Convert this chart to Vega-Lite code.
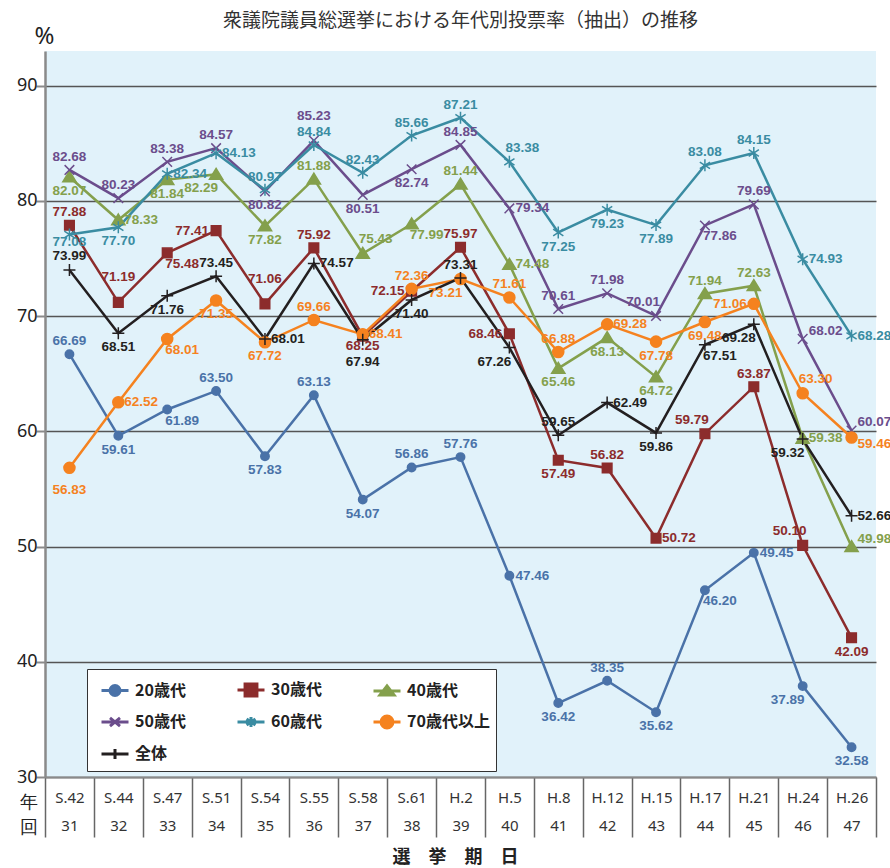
{
"$schema":"https://vega.github.io/schema/vega-lite/v6.json",
"width":831,"height":726,
"autosize":{"type":"none"},
"padding":{"left":45,"top":51,"right":14,"bottom":91},
"background":"white",
"title":{"text":"衆議院議員総選挙における年代別投票率（抽出）の推移","font":"Noto Sans CJK JP","fontSize":19,"fontWeight":"normal","color":"#333333","anchor":"middle","frame":"group","offset":20,"dy":27},
"config":{"view":{"fill":"#e1f2fa","stroke":null},"font":"Noto Sans"},
"data":{"values":[
{"g":"20歳代","e":"S.42","n":31,"v":66.69},{"g":"20歳代","e":"S.44","n":32,"v":59.61},{"g":"20歳代","e":"S.47","n":33,"v":61.89},{"g":"20歳代","e":"S.51","n":34,"v":63.50},{"g":"20歳代","e":"S.54","n":35,"v":57.83},{"g":"20歳代","e":"S.55","n":36,"v":63.13},{"g":"20歳代","e":"S.58","n":37,"v":54.07},{"g":"20歳代","e":"S.61","n":38,"v":56.86},{"g":"20歳代","e":"H.2","n":39,"v":57.76},{"g":"20歳代","e":"H.5","n":40,"v":47.46},{"g":"20歳代","e":"H.8","n":41,"v":36.42},{"g":"20歳代","e":"H.12","n":42,"v":38.35},{"g":"20歳代","e":"H.15","n":43,"v":35.62},{"g":"20歳代","e":"H.17","n":44,"v":46.20},{"g":"20歳代","e":"H.21","n":45,"v":49.45},{"g":"20歳代","e":"H.24","n":46,"v":37.89},{"g":"20歳代","e":"H.26","n":47,"v":32.58},
{"g":"30歳代","e":"S.42","n":31,"v":77.88},{"g":"30歳代","e":"S.44","n":32,"v":71.19},{"g":"30歳代","e":"S.47","n":33,"v":75.48},{"g":"30歳代","e":"S.51","n":34,"v":77.41},{"g":"30歳代","e":"S.54","n":35,"v":71.06},{"g":"30歳代","e":"S.55","n":36,"v":75.92},{"g":"30歳代","e":"S.58","n":37,"v":68.25},{"g":"30歳代","e":"S.61","n":38,"v":72.15},{"g":"30歳代","e":"H.2","n":39,"v":75.97},{"g":"30歳代","e":"H.5","n":40,"v":68.46},{"g":"30歳代","e":"H.8","n":41,"v":57.49},{"g":"30歳代","e":"H.12","n":42,"v":56.82},{"g":"30歳代","e":"H.15","n":43,"v":50.72},{"g":"30歳代","e":"H.17","n":44,"v":59.79},{"g":"30歳代","e":"H.21","n":45,"v":63.87},{"g":"30歳代","e":"H.24","n":46,"v":50.10},{"g":"30歳代","e":"H.26","n":47,"v":42.09},
{"g":"40歳代","e":"S.42","n":31,"v":82.07},{"g":"40歳代","e":"S.44","n":32,"v":78.33},{"g":"40歳代","e":"S.47","n":33,"v":81.84},{"g":"40歳代","e":"S.51","n":34,"v":82.29},{"g":"40歳代","e":"S.54","n":35,"v":77.82},{"g":"40歳代","e":"S.55","n":36,"v":81.88},{"g":"40歳代","e":"S.58","n":37,"v":75.43},{"g":"40歳代","e":"S.61","n":38,"v":77.99},{"g":"40歳代","e":"H.2","n":39,"v":81.44},{"g":"40歳代","e":"H.5","n":40,"v":74.48},{"g":"40歳代","e":"H.8","n":41,"v":65.46},{"g":"40歳代","e":"H.12","n":42,"v":68.13},{"g":"40歳代","e":"H.15","n":43,"v":64.72},{"g":"40歳代","e":"H.17","n":44,"v":71.94},{"g":"40歳代","e":"H.21","n":45,"v":72.63},{"g":"40歳代","e":"H.24","n":46,"v":59.38},{"g":"40歳代","e":"H.26","n":47,"v":49.98},
{"g":"50歳代","e":"S.42","n":31,"v":82.68},{"g":"50歳代","e":"S.44","n":32,"v":80.23},{"g":"50歳代","e":"S.47","n":33,"v":83.38},{"g":"50歳代","e":"S.51","n":34,"v":84.57},{"g":"50歳代","e":"S.54","n":35,"v":80.82},{"g":"50歳代","e":"S.55","n":36,"v":85.23},{"g":"50歳代","e":"S.58","n":37,"v":80.51},{"g":"50歳代","e":"S.61","n":38,"v":82.74},{"g":"50歳代","e":"H.2","n":39,"v":84.85},{"g":"50歳代","e":"H.5","n":40,"v":79.34},{"g":"50歳代","e":"H.8","n":41,"v":70.61},{"g":"50歳代","e":"H.12","n":42,"v":71.98},{"g":"50歳代","e":"H.15","n":43,"v":70.01},{"g":"50歳代","e":"H.17","n":44,"v":77.86},{"g":"50歳代","e":"H.21","n":45,"v":79.69},{"g":"50歳代","e":"H.24","n":46,"v":68.02},{"g":"50歳代","e":"H.26","n":47,"v":60.07},
{"g":"60歳代","e":"S.42","n":31,"v":77.08},{"g":"60歳代","e":"S.44","n":32,"v":77.70},{"g":"60歳代","e":"S.47","n":33,"v":82.34},{"g":"60歳代","e":"S.51","n":34,"v":84.13},{"g":"60歳代","e":"S.54","n":35,"v":80.97},{"g":"60歳代","e":"S.55","n":36,"v":84.84},{"g":"60歳代","e":"S.58","n":37,"v":82.43},{"g":"60歳代","e":"S.61","n":38,"v":85.66},{"g":"60歳代","e":"H.2","n":39,"v":87.21},{"g":"60歳代","e":"H.5","n":40,"v":83.38},{"g":"60歳代","e":"H.8","n":41,"v":77.25},{"g":"60歳代","e":"H.12","n":42,"v":79.23},{"g":"60歳代","e":"H.15","n":43,"v":77.89},{"g":"60歳代","e":"H.17","n":44,"v":83.08},{"g":"60歳代","e":"H.21","n":45,"v":84.15},{"g":"60歳代","e":"H.24","n":46,"v":74.93},{"g":"60歳代","e":"H.26","n":47,"v":68.28},
{"g":"70歳代以上","e":"S.42","n":31,"v":56.83},{"g":"70歳代以上","e":"S.44","n":32,"v":62.52},{"g":"70歳代以上","e":"S.47","n":33,"v":68.01},{"g":"70歳代以上","e":"S.51","n":34,"v":71.35},{"g":"70歳代以上","e":"S.54","n":35,"v":67.72},{"g":"70歳代以上","e":"S.55","n":36,"v":69.66},{"g":"70歳代以上","e":"S.58","n":37,"v":68.41},{"g":"70歳代以上","e":"S.61","n":38,"v":72.36},{"g":"70歳代以上","e":"H.2","n":39,"v":73.21},{"g":"70歳代以上","e":"H.5","n":40,"v":71.61},{"g":"70歳代以上","e":"H.8","n":41,"v":66.88},{"g":"70歳代以上","e":"H.12","n":42,"v":69.28},{"g":"70歳代以上","e":"H.15","n":43,"v":67.78},{"g":"70歳代以上","e":"H.17","n":44,"v":69.48},{"g":"70歳代以上","e":"H.21","n":45,"v":71.06},{"g":"70歳代以上","e":"H.24","n":46,"v":63.30},{"g":"70歳代以上","e":"H.26","n":47,"v":59.46},
{"g":"全体","e":"S.42","n":31,"v":73.99},{"g":"全体","e":"S.44","n":32,"v":68.51},{"g":"全体","e":"S.47","n":33,"v":71.76},{"g":"全体","e":"S.51","n":34,"v":73.45},{"g":"全体","e":"S.54","n":35,"v":68.01},{"g":"全体","e":"S.55","n":36,"v":74.57},{"g":"全体","e":"S.58","n":37,"v":67.94},{"g":"全体","e":"S.61","n":38,"v":71.40},{"g":"全体","e":"H.2","n":39,"v":73.31},{"g":"全体","e":"H.5","n":40,"v":67.26},{"g":"全体","e":"H.8","n":41,"v":59.65},{"g":"全体","e":"H.12","n":42,"v":62.49},{"g":"全体","e":"H.15","n":43,"v":59.86},{"g":"全体","e":"H.17","n":44,"v":67.51},{"g":"全体","e":"H.21","n":45,"v":69.28},{"g":"全体","e":"H.24","n":46,"v":59.32},{"g":"全体","e":"H.26","n":47,"v":52.66}
]},
"encoding":{
  "x":{"field":"e","type":"ordinal","scale":{"type":"band","domain":["S.42","S.44","S.47","S.51","S.54","S.55","S.58","S.61","H.2","H.5","H.8","H.12","H.15","H.17","H.21","H.24","H.26"],"paddingInner":0,"paddingOuter":0},
   "axis":{"title":"選　挙　期　日","titleFont":"Noto Sans CJK JP","titleFontSize":18,"titleFontWeight":"bold","titleColor":"#222222","titleX":410,"titleY":80,"titleAlign":"center","titleBaseline":"middle","titleAngle":0,
    "labelExpr":"indexof(['S.42','S.44','S.47','S.51','S.54','S.55','S.58','S.61','H.2','H.5','H.8','H.12','H.15','H.17','H.21','H.24','H.26'], datum.label) < 0 ? '' : [datum.label, '' + (indexof(['S.42','S.44','S.47','S.51','S.54','S.55','S.58','S.61','H.2','H.5','H.8','H.12','H.15','H.17','H.21','H.24','H.26'], datum.label) + 31)]",
    "labelAngle":0,"labelFont":"Noto Sans","labelFontSize":15,"labelColor":"#333333","labelBaseline":"top","labelLineHeight":28,"labelPadding":-47,"labelOverlap":false,
    "tickBand":"extent","tickSize":60,"tickColor":"#666666","tickWidth":1.5,"domainColor":"#8a8a8a","domainWidth":2,"grid":false}},
  "y":{"field":"v","type":"quantitative","scale":{"domain":[30,93],"nice":false,"zero":false},
   "axis":{"title":"%","titleAngle":0,"titleX":-1,"titleY":-15,"titleAlign":"center","titleBaseline":"middle","titleFontSize":24,"titleFontWeight":"normal","titleFont":"Noto Sans","titleColor":"#222222",
    "values":[30,40,50,60,70,80,90],"grid":true,"gridColor":"#555555","gridWidth":1.5,"tickSize":9,"tickColor":"#8a8a8a","tickWidth":2,
    "labelExpr":"datum.value === 30 ? ['30\u00a0\u00a0', '年', '回'] : datum.label + '\u00a0\u00a0'",
    "labelLineHeight":25,"labelOverlap":false,
    "labelFontSize":18,"labelFont":"Noto Sans","labelColor":"#222222","labelPadding":-1,"domainColor":"#8a8a8a","domainWidth":2.5}},
  "color":{"field":"g","type":"nominal","scale":{"domain":["20歳代","30歳代","40歳代","50歳代","60歳代","70歳代以上","全体"],"range":["#4a72a8","#8c2c2c","#84a04c","#6b4d8c","#3a8ca2","#f5821f","#231f20"]},
   "legend":{"title":null,"orient":"none","legendX":42,"legendY":618,"direction":"horizontal","columns":3,"fillColor":"white","strokeColor":"#333333","padding":6,"rowPadding":5,"columnPadding":43,"symbolSize":729,"symbolOffset":7,"symbolStrokeWidth":3,"labelFont":"Noto Sans CJK JP","labelFontSize":16,"labelFontWeight":"bold","labelColor":"#222222","labelOffset":5,
    "encode":{"symbols":{"update":{
     "shape":{"signal":"datum.value==='20歳代'?'M-1,0L1,0M-0.37,0A0.37,0.37 0 1,0 0.37,0A0.37,0.37 0 1,0 -0.37,0Z':datum.value==='30歳代'?'M-1,0L1,0M-0.44,-0.44H0.44V0.44H-0.44Z':datum.value==='40歳代'?'M-1,0L1,0M0,-0.37L0.52,0.3L-0.52,0.3Z':datum.value==='50歳代'?'M-1,0L1,0M-0.37,-0.3L0.37,0.3M-0.37,0.3L0.37,-0.3':datum.value==='60歳代'?'M-1,0L1,0M0,-0.37V0.37M-0.33,-0.22L0.33,0.22M-0.33,0.22L0.33,-0.22':datum.value==='70歳代以上'?'M-1,0L1,0M-0.44,0A0.44,0.44 0 1,0 0.44,0A0.44,0.44 0 1,0 -0.44,0Z':'M-1,0L1,0M0,-0.37V0.37'"},
     "fill":{"scale":"color","field":"value"},
     "stroke":{"scale":"color","field":"value"},
     "strokeWidth":{"value":3},
     "opacity":{"value":1}}}}}}
},
"layer":[
{"mark":{"type":"line","strokeWidth":2.5},"encoding":{}},
{"encoding":{
  "stroke":{"field":"g","type":"nominal","scale":{"domain":["20歳代","30歳代","40歳代","50歳代","60歳代","70歳代以上","全体"],"range":["#4a72a8","#8c2c2c","#84a04c","#6b4d8c","#3a8ca2","#f5821f","#231f20"]},"legend":null}},
 "layer":[
  {"transform":[{"filter":"datum.g==='20歳代'"}],"mark":{"type":"point","filled":true,"strokeWidth":1.5,"size":144,"opacity":1,"shape":"M-0.7,0A0.7,0.7 0 1,0 0.7,0A0.7,0.7 0 1,0 -0.7,0Z"}},
  {"transform":[{"filter":"datum.g==='30歳代'"}],"mark":{"type":"point","filled":true,"strokeWidth":1.5,"size":144,"opacity":1,"shape":"M-0.8,-0.8H0.8V0.8H-0.8Z"}},
  {"transform":[{"filter":"datum.g==='40歳代'"}],"mark":{"type":"point","filled":true,"strokeWidth":1.5,"size":144,"opacity":1,"shape":"M0,-1L1.1,0.8L-1.1,0.8Z"}},
  {"transform":[{"filter":"datum.g==='50歳代'"}],"mark":{"type":"point","filled":true,"strokeWidth":1.5,"size":144,"opacity":1,"shape":"M-0.8,-0.8L0.8,0.8M-0.8,0.8L0.8,-0.8"}},
  {"transform":[{"filter":"datum.g==='60歳代'"}],"mark":{"type":"point","filled":true,"strokeWidth":1.5,"size":144,"opacity":1,"shape":"M0,-1V1M-0.85,-0.55L0.85,0.55M-0.85,0.55L0.85,-0.55"}},
  {"transform":[{"filter":"datum.g==='70歳代以上'"}],"mark":{"type":"point","filled":true,"strokeWidth":1.5,"size":144,"opacity":1,"shape":"M-0.92,0A0.92,0.92 0 1,0 0.92,0A0.92,0.92 0 1,0 -0.92,0Z"}},
  {"transform":[{"filter":"datum.g==='全体'"}],"mark":{"type":"point","filled":true,"strokeWidth":1.5,"size":144,"opacity":1,"shape":"M-1,0H1M0,-1V1"}}
 ]},
{"encoding":{
  "text":{"field":"v","type":"quantitative","format":".2f"}},
 "layer":[
  {"transform":[{"filter":"indexof(['20-31','20-34','20-36','20-38','20-39','20-42','30-31','30-36','30-39','30-42','30-45','40-36','40-39','40-44','40-45','50-31','50-32','50-33','50-34','50-39','50-41','50-42','50-45','60-35','60-36','60-37','60-38','60-39','60-44','60-45','70-36','70-38','70-40','70-41','全体-34','全体-39','全体-41'], substring(datum.g,0,2)+'-'+datum.n) >= 0"}],
   "mark":{"type":"text","dy":-13,"align":"center","baseline":"middle","font":"Liberation Sans","fontSize":13.5,"fontWeight":"bold"}},
  {"transform":[{"filter":"indexof(['全体-31'], substring(datum.g,0,2)+'-'+datum.n) >= 0"}],
   "mark":{"type":"text","dy":-14,"align":"center","baseline":"middle","font":"Liberation Sans","fontSize":13.5,"fontWeight":"bold"}},
  {"transform":[{"filter":"indexof(['20-32','20-35','20-37','20-41','20-43','20-47','30-41','30-47','40-31','40-33','40-35','40-41','40-42','40-43','50-35','50-37','50-38','60-32','60-41','60-42','60-43','70-34','70-35','70-43','70-44','全体-32','全体-33','全体-38','全体-43'], substring(datum.g,0,2)+'-'+datum.n) >= 0"}],
   "mark":{"type":"text","dy":14,"align":"center","baseline":"middle","font":"Liberation Sans","fontSize":13.5,"fontWeight":"bold"}},
  {"transform":[{"filter":"indexof(['20-40','20-45','30-43','40-32','40-40','40-46','50-40','60-33','60-34','60-46','60-47','70-32','70-37','70-42','全体-35','全体-36','全体-42','全体-47'], substring(datum.g,0,2)+'-'+datum.n) >= 0"}],
   "mark":{"type":"text","dx":6,"align":"left","baseline":"middle","font":"Liberation Sans","fontSize":13.5,"fontWeight":"bold"}},
  {"transform":[{"filter":"indexof(['40-47','50-46','50-47'], substring(datum.g,0,2)+'-'+datum.n) >= 0"}],
   "mark":{"type":"text","dx":6,"dy":-8,"align":"left","baseline":"middle","font":"Liberation Sans","fontSize":13.5,"fontWeight":"bold"}},
  {"transform":[{"filter":"indexof(['70-47'], substring(datum.g,0,2)+'-'+datum.n) >= 0"}],
   "mark":{"type":"text","dx":6,"dy":6,"align":"left","baseline":"middle","font":"Liberation Sans","fontSize":13.5,"fontWeight":"bold"}},
  {"transform":[{"filter":"indexof(['30-34','30-38','30-40','70-45'], substring(datum.g,0,2)+'-'+datum.n) >= 0"}],
   "mark":{"type":"text","dx":-7,"align":"right","baseline":"middle","font":"Liberation Sans","fontSize":13.5,"fontWeight":"bold"}},
  {"transform":[{"filter":"indexof(['40-37','60-40','70-46'], substring(datum.g,0,2)+'-'+datum.n) >= 0"}],
   "mark":{"type":"text","dx":13,"dy":-14,"align":"center","baseline":"middle","font":"Liberation Sans","fontSize":13.5,"fontWeight":"bold"}},
  {"transform":[{"filter":"indexof(['30-44','30-46','50-43'], substring(datum.g,0,2)+'-'+datum.n) >= 0"}],
   "mark":{"type":"text","dx":-13,"dy":-14,"align":"center","baseline":"middle","font":"Liberation Sans","fontSize":13.5,"fontWeight":"bold"}},
  {"transform":[{"filter":"indexof(['20-33','20-44','30-33','40-38','50-44','70-33','全体-44'], substring(datum.g,0,2)+'-'+datum.n) >= 0"}],
   "mark":{"type":"text","dx":15,"dy":11,"align":"center","baseline":"middle","font":"Liberation Sans","fontSize":13.5,"fontWeight":"bold"}},
  {"transform":[{"filter":"indexof(['20-46','40-34','70-39','全体-40','全体-45','全体-46'], substring(datum.g,0,2)+'-'+datum.n) >= 0"}],
   "mark":{"type":"text","dx":-15,"dy":14,"align":"center","baseline":"middle","font":"Liberation Sans","fontSize":13.5,"fontWeight":"bold"}},
  {"transform":[{"filter":"indexof(['50-36','30-32','30-35'], substring(datum.g,0,2)+'-'+datum.n) >= 0"}],
   "mark":{"type":"text","dy":-25,"align":"center","baseline":"middle","font":"Liberation Sans","fontSize":13.5,"fontWeight":"bold"}},
  {"transform":[{"filter":"indexof(['30-37'], substring(datum.g,0,2)+'-'+datum.n) >= 0"}],
   "mark":{"type":"text","dy":10,"align":"center","baseline":"middle","font":"Liberation Sans","fontSize":13.5,"fontWeight":"bold"}},
  {"transform":[{"filter":"indexof(['60-31'], substring(datum.g,0,2)+'-'+datum.n) >= 0"}],
   "mark":{"type":"text","dy":8,"align":"center","baseline":"middle","font":"Liberation Sans","fontSize":13.5,"fontWeight":"bold"}},
  {"transform":[{"filter":"indexof(['全体-37','70-31'], substring(datum.g,0,2)+'-'+datum.n) >= 0"}],
   "mark":{"type":"text","dy":22,"align":"center","baseline":"middle","font":"Liberation Sans","fontSize":13.5,"fontWeight":"bold"}}
 ]}
]
}
